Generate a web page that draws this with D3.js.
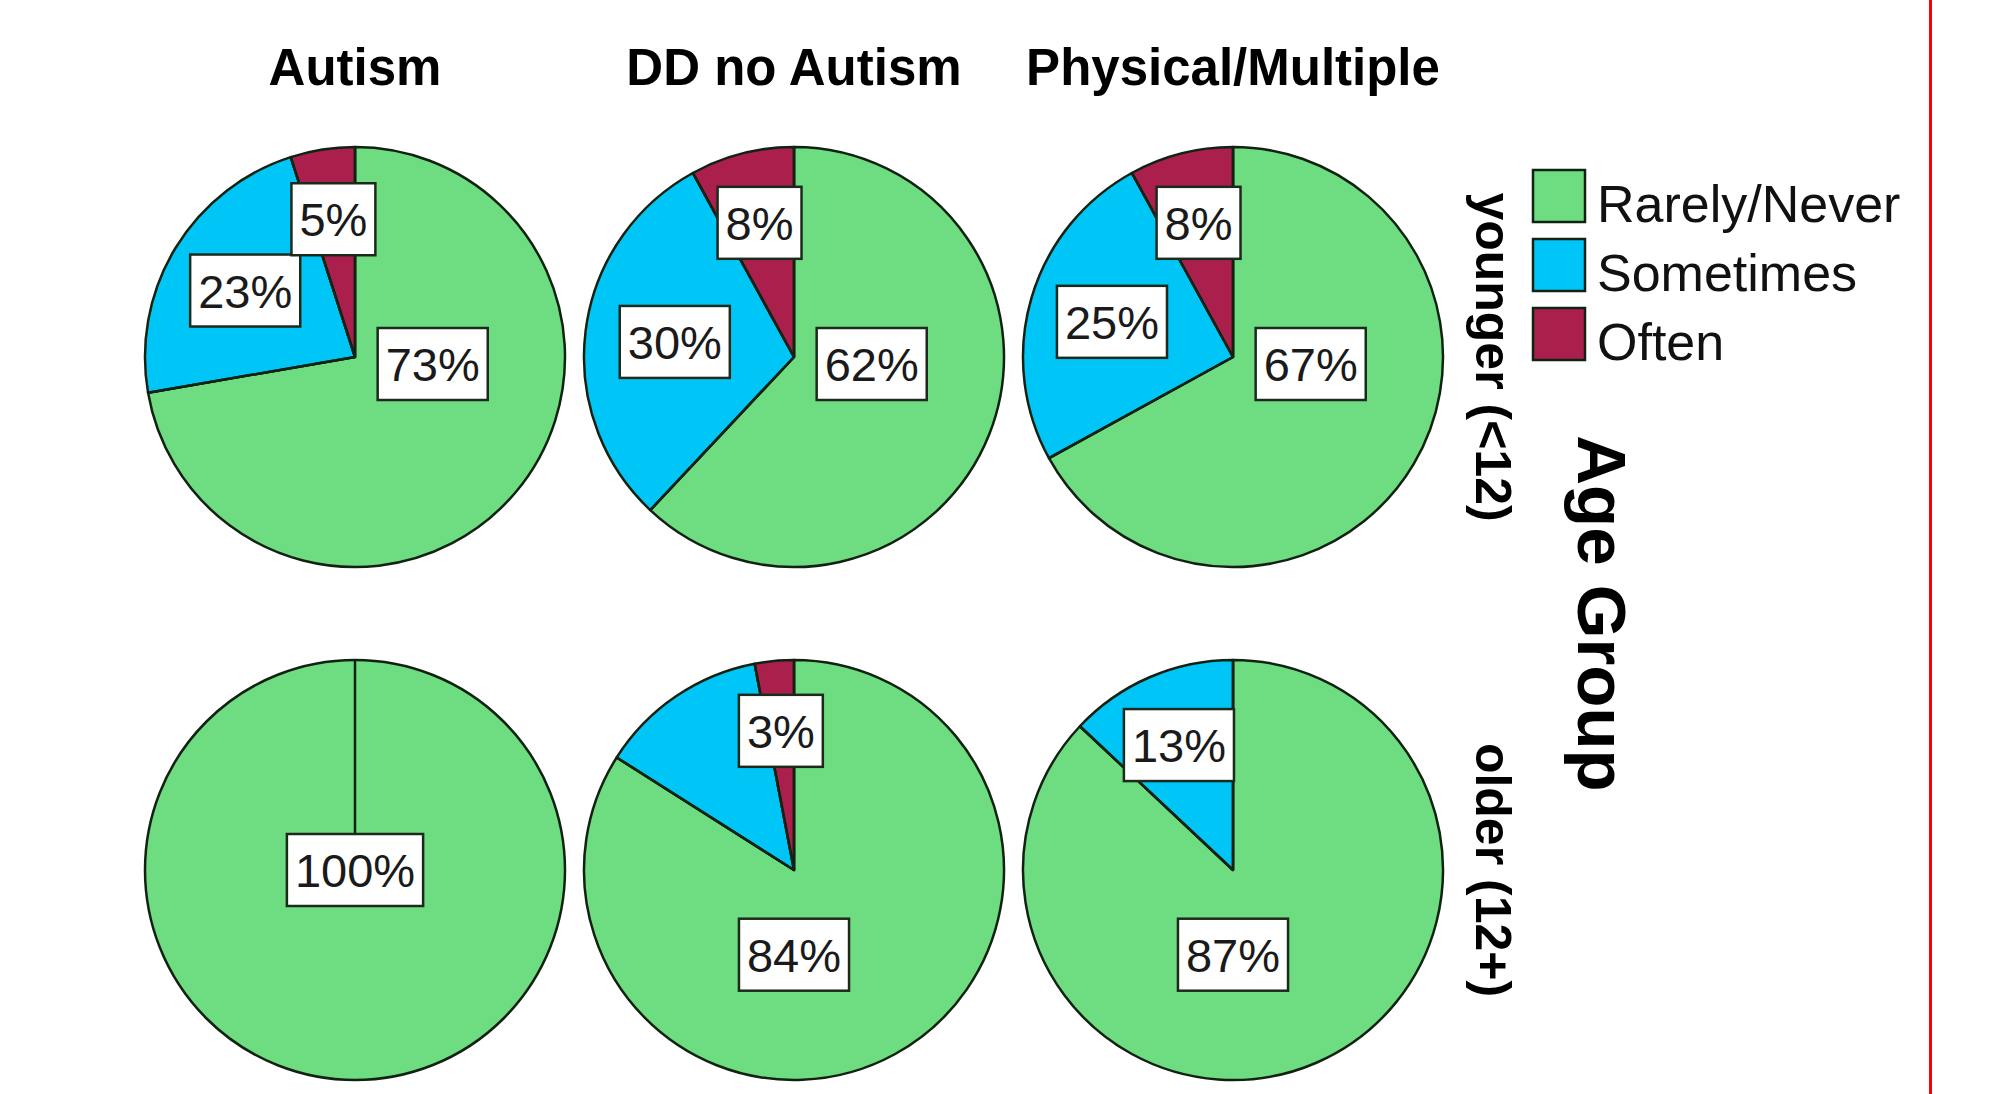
<!DOCTYPE html>
<html>
<head>
<meta charset="utf-8">
<script src="https://cdn.jsdelivr.net/npm/d3@7/dist/d3.min.js"></script>
<style>
  html, body { margin: 0; padding: 0; background: #ffffff; }
  svg { display: block; }
</style>
</head>
<body>
<script>
// Columns, rows and response categories
const groups = ["Autism", "DD no Autism", "Physical/Multiple"];
const ageGroups = ["younger (<12)", "older (12+)"];
const responses = ["Rarely/Never", "Sometimes", "Often"];

// Percentages per age group (rows) and disability group (columns)
const rarelyNever = [[73, 62, 67], [100, 84, 87]];
const sometimes   = [[23, 30, 25], [0, 13, 13]];
const often       = [[5, 8, 8], [0, 3, 0]];

// Slice labels that the chart leaves out (they would collide with a neighbour)
const hiddenLabels = [["older (12+)", "DD no Autism", "Sometimes"]];

const seriesByResponse = new Map([
  ["Rarely/Never", rarelyNever],
  ["Sometimes", sometimes],
  ["Often", often]
]);

const W = 2001, H = 1094;
const R = 210;

const svg = d3.select("body").append("svg")
  .attr("width", W).attr("height", H)
  .attr("viewBox", `0 0 ${W} ${H}`);

svg.append("rect").attr("width", W).attr("height", H).attr("fill", "#ffffff");

const colX = d3.scalePoint().domain(groups).range([355, 1233]);
const rowY = d3.scalePoint().domain(ageGroups).range([357, 870]);
const color = d3.scaleOrdinal().domain(responses)
  .range(["#6edc80", "#00c6f8", "#ab1f4c"]);

const pie = d3.pie().sort(null).value(d => d.value)
  .startAngle(0).endAngle(2 * Math.PI);
const arc = d3.arc().innerRadius(0).outerRadius(R);

const hiddenSet = new Set(hiddenLabels.map(k => k.join("|")));

const cells = ageGroups.flatMap((age, i) => groups.map((g, j) => ({
  age, group: g,
  values: responses.map(r => ({ response: r, value: seriesByResponse.get(r)[i][j] }))
})));

const fontFamily = "Arial, 'Liberation Sans', 'DejaVu Sans', sans-serif";
const stroke = "#122212";

// Column titles
svg.append("g").selectAll("text").data(groups).join("text")
  .attr("x", d => colX(d)).attr("y", 85)
  .attr("text-anchor", "middle")
  .attr("font-family", fontFamily).attr("font-weight", "bold")
  .attr("font-size", 51).attr("fill", "#000")
  .text(d => d);

// Row labels, rotated
svg.append("g").selectAll("text").data(ageGroups).join("text")
  .attr("transform", d => `translate(1476,${rowY(d)}) rotate(90)`)
  .attr("text-anchor", "middle")
  .attr("font-family", fontFamily).attr("font-weight", "bold")
  .attr("font-size", 50).attr("fill", "#000")
  .text(d => d);

// Row axis title
svg.append("text")
  .attr("transform", `translate(1578,${(rowY(ageGroups[0]) + rowY(ageGroups[1])) / 2}) rotate(90)`)
  .attr("text-anchor", "middle")
  .attr("font-family", fontFamily).attr("font-weight", "bold")
  .attr("font-size", 69).attr("fill", "#000")
  .text("Age Group");

// Pies
const pies = svg.append("g").selectAll("g.pie").data(cells).join("g")
  .attr("class", "pie")
  .attr("transform", d => `translate(${colX(d.group)},${rowY(d.age)})`);

pies.each(function (cell) {
  const g = d3.select(this);
  const arcs = pie(cell.values).filter(a => a.data.value > 0);

  g.selectAll("path.slice").data(arcs).join("path")
    .attr("class", "slice")
    .attr("d", arc)
    .attr("fill", a => color(a.data.response))
    .attr("stroke", stroke).attr("stroke-width", 2.5)
    .attr("stroke-linejoin", "round");

  // slice boundaries from the centre
  g.selectAll("line.edge").data(arcs).join("line")
    .attr("class", "edge")
    .attr("x1", 0).attr("y1", 0)
    .attr("x2", a => R * Math.sin(a.startAngle))
    .attr("y2", a => -R * Math.cos(a.startAngle))
    .attr("stroke", stroke).attr("stroke-width", 2.5);

  // value labels
  const largest = d3.greatest(arcs, a => a.data.value);
  const labelled = arcs.filter(a => !hiddenSet.has([cell.age, cell.group, a.data.response].join("|")));
  labelled.forEach(a => {
    const mid = (a.startAngle + a.endAngle) / 2;
    let x, y;
    if (arcs.length === 1) {
      x = 0; y = 0;
    } else if (a === largest) {
      // dominant slice: label sits on the nearest quarter axis of its mid-angle
      const snapped = Math.round(mid / (Math.PI / 2)) * (Math.PI / 2);
      x = 0.37 * R * Math.sin(snapped);
      y = -0.37 * R * Math.cos(snapped) + 7;
    } else {
      // other slices: label at the sector's centroid
      const span = a.endAngle - a.startAngle;
      const dist = 4 * R * Math.sin(span / 2) / (3 * span);
      x = dist * Math.sin(mid);
      y = -dist * Math.cos(mid);
    }
    const lg = g.append("g").attr("transform", `translate(${x},${y})`);
    const box = lg.append("rect");
    const t = lg.append("text")
      .attr("text-anchor", "middle")
      .attr("y", 17)
      .attr("font-family", fontFamily)
      .attr("font-size", 47)
      .attr("fill", "#1a1a1a")
      .text(`${a.data.value}%`);
    const tw = t.node().getComputedTextLength();
    const bw = tw + 16, bh = 72;
    box.attr("x", -bw / 2).attr("y", -bh / 2)
      .attr("width", bw).attr("height", bh)
      .attr("fill", "#ffffff")
      .attr("stroke", "#1c2a1c").attr("stroke-width", 2.5);
  });
});

// Legend
const legend = svg.append("g").attr("transform", "translate(1533,170)");
const items = legend.selectAll("g").data(responses).join("g")
  .attr("transform", (d, i) => `translate(0,${i * 69})`);
items.append("rect")
  .attr("width", 52).attr("height", 52)
  .attr("fill", d => color(d))
  .attr("stroke", "#122212").attr("stroke-width", 2.5);
items.append("text")
  .attr("x", 64).attr("y", 52)
  .attr("font-family", fontFamily)
  .attr("font-size", 52).attr("fill", "#111")
  .text(d => d);

// Right-hand frame edge
svg.append("line")
  .attr("x1", 1930.5).attr("x2", 1930.5)
  .attr("y1", 0).attr("y2", H)
  .attr("stroke", "#ff0000").attr("stroke-width", 3);
</script>
</body>
</html>
